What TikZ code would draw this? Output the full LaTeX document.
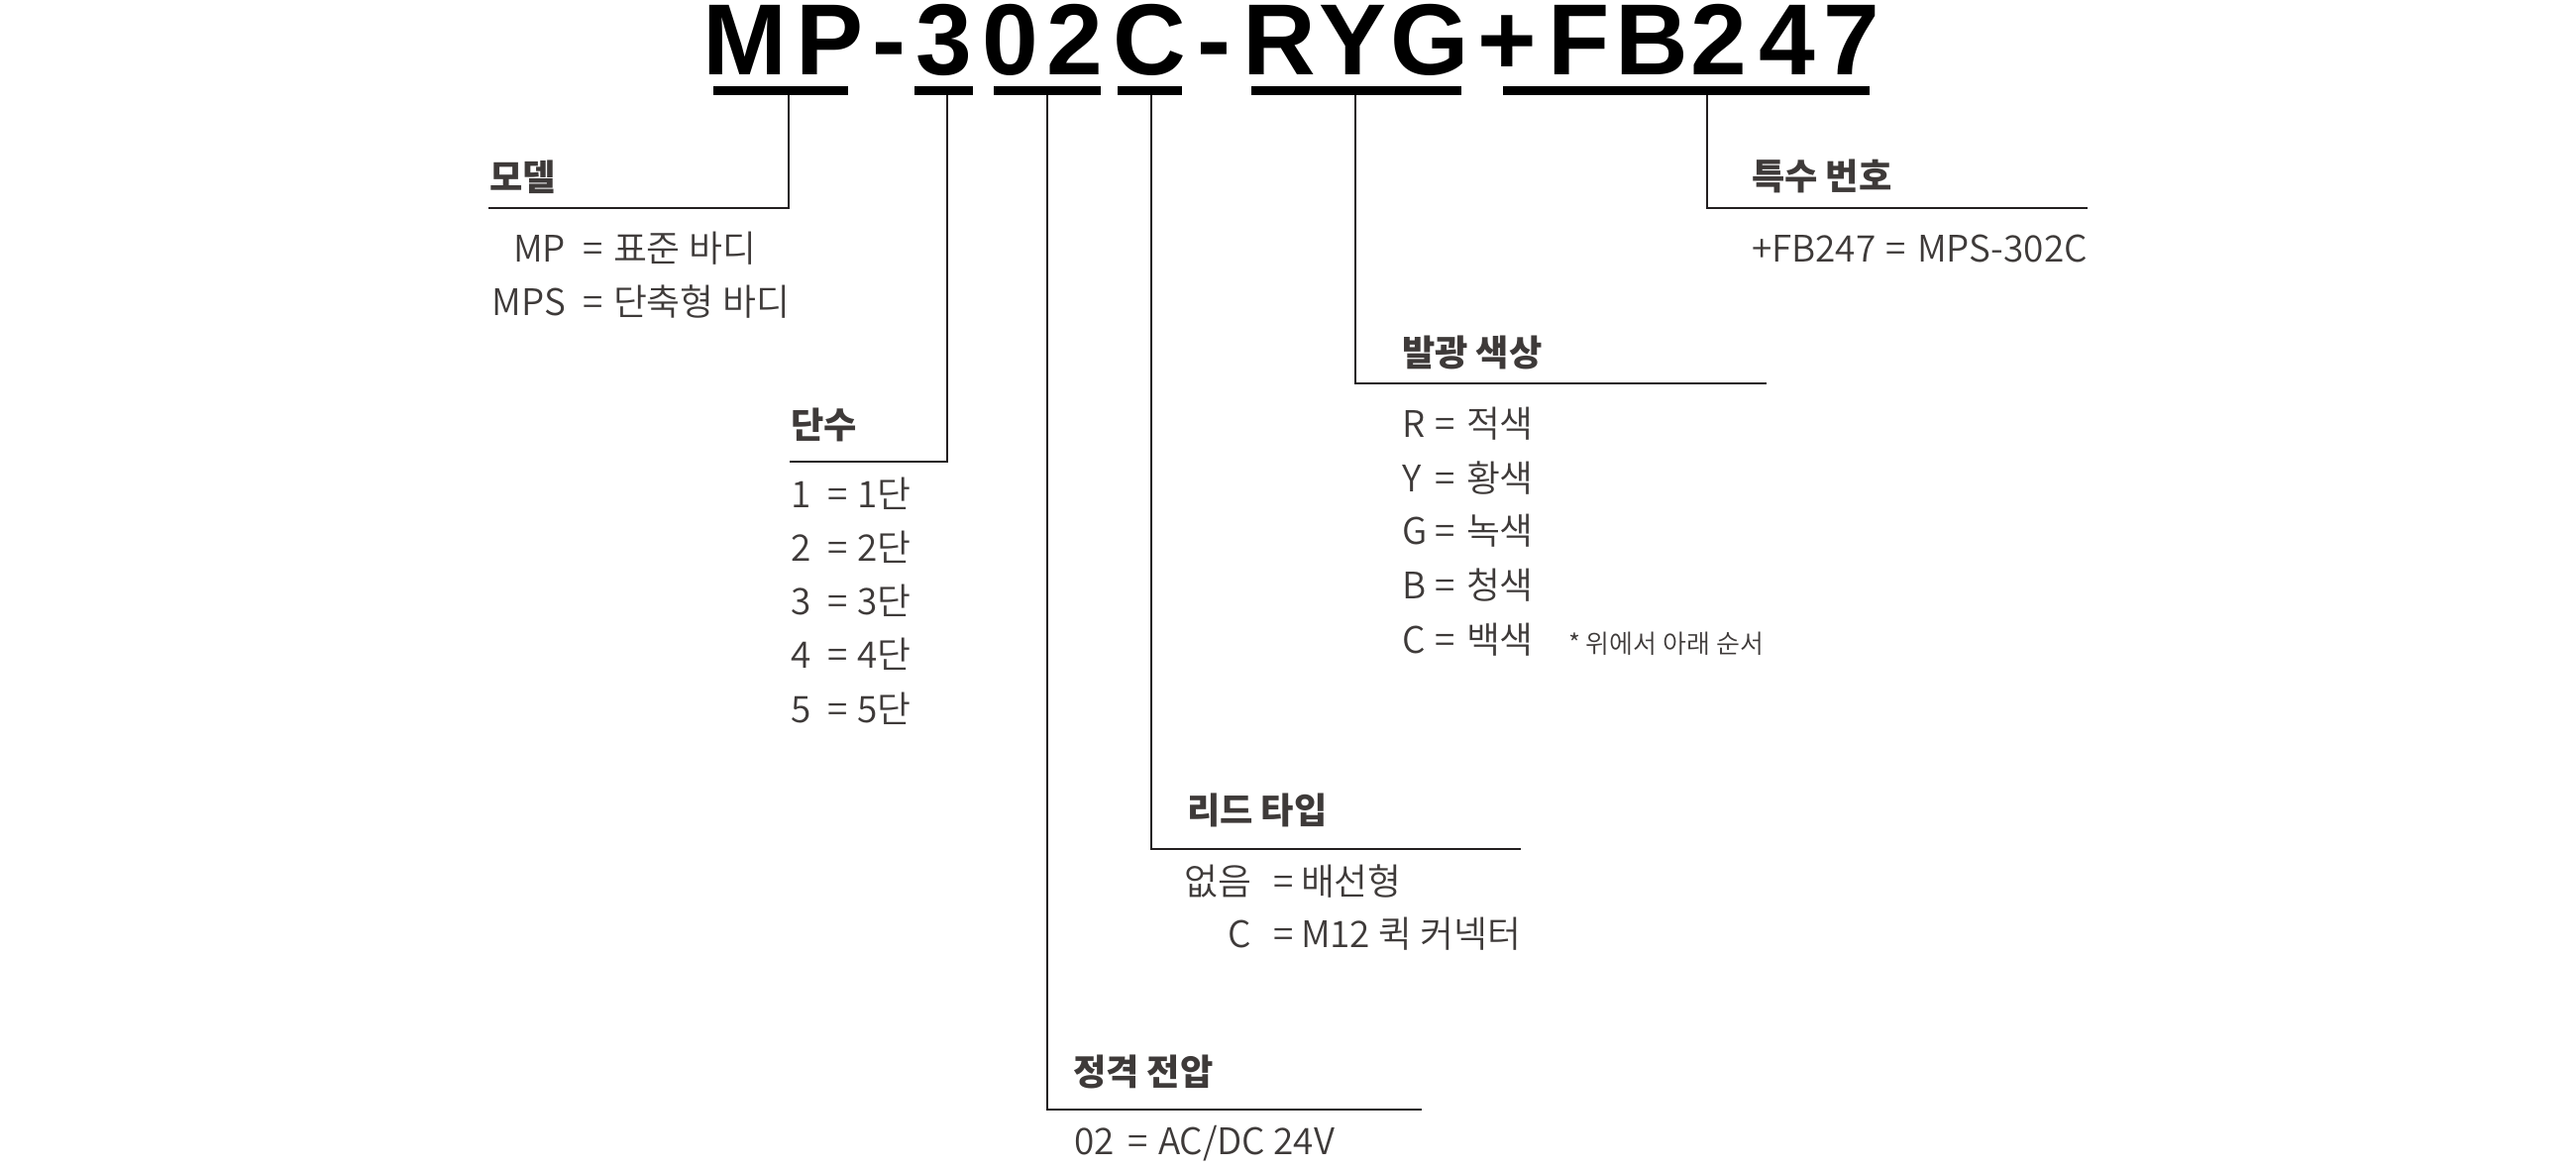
\documentclass[tikz,border=0pt]{standalone}
\usepackage{fontspec}
\newfontfamily\titlefont{Liberation Sans}
\newfontfamily\krfont{Noto Sans CJK KR}
\newfontfamily\krlight{Noto Sans CJK KR DemiLight}
\definecolor{txt}{HTML}{3E3A39}
\definecolor{ln}{HTML}{231F20}
\begin{document}
\begin{tikzpicture}[x=0.01cm,y=-0.01cm,
 ttl/.style={font=\titlefont\bfseries\fontsize{29}{29}\selectfont, inner sep=0pt, outer sep=0pt, anchor=base},
 head/.style={font=\krfont\bfseries\fontsize{10.3}{12}\selectfont, text=txt, inner sep=0pt, outer sep=0pt, anchor=base west},
 body/.style={font=\krlight\fontsize{10.5}{12}\selectfont, text=txt, inner sep=0pt, outer sep=0pt, anchor=base west},
 key/.style={body, anchor=base east},
 notetxt/.style={font=\krlight\fontsize{7.4}{9}\selectfont, text=txt, inner sep=0pt, outer sep=0pt, anchor=base west},
 bar/.style={draw=black, line width=2.56pt},
 lead/.style={draw=ln, line width=0.6pt}]
\useasboundingbox (0,0) rectangle (2600,1180);
% title characters
\foreach \c/\x [count=\i] in {M/752,P/838,-/897,3/953,0/1020,2/1085,C/1160,-/1225,R/1291,Y/1365,G/1443,+/1521,F/1594,B/1667,2/1735,4/1804,7/1869}
  \node[ttl] (t\i) at (\x,76) {\c};
% underline bars
\draw[bar] (720,91.5) -- (856,91.5);
\draw[bar] (923,91.5) -- (982,91.5);
\draw[bar] (1003,91.5) -- (1111,91.5);
\draw[bar] (1128,91.5) -- (1193,91.5);
\draw[bar] (1263,91.5) -- (1475,91.5);
\draw[bar] (1517,91.5) -- (1887,91.5);
% connector coordinates
\coordinate (bMP) at (796,96);
\coordinate (b3) at (956,96);
\coordinate (b02) at (1057,96);
\coordinate (bC) at (1162,96);
\coordinate (bRYG) at (1368,96);
\coordinate (bFB) at (1723,96);
\coordinate (hMP) at (493,210);
\coordinate (h3) at (797,466);
\coordinate (h02) at (1435,1120);
\coordinate (hC) at (1535,857);
\coordinate (hRYG) at (1783,387);
\coordinate (hFB) at (2107,210);
\draw[lead] (bMP) |- (hMP);
\draw[lead] (b3) |- (h3);
\draw[lead] (b02) |- (h02);
\draw[lead] (bC) |- (hC);
\draw[lead] (bRYG) |- (hRYG);
\draw[lead] (bFB) |- (hFB);
% model
\node[head] (mh) at (494,193) {모델};
\node[key] (mk1) at (571,265) {MP};
\node[body] (me1) at (588,265) {=};
\node[body] (mv1) at (619,265) {표준 바디};
\node[key] (mk2) at (571,319) {MPS};
\node[body] (me2) at (588,319) {=};
\node[body] (mv2) at (619,319) {단축형 바디};
% stages
\node[head] (sh) at (798,443) {단수};
\foreach \n/\y in {1/513,2/567,3/621,4/675,5/730}{
  \node[body] (sk\n) at (798,\y) {\n};
  \node[body] (se\n) at (835,\y) {=};
  \node[body] (sv\n) at (865,\y) {{\n}단};
}
% colours
\node[head] (ch) at (1415,370) {발광 색상};
\foreach \k/\v/\y in {R/적색/442,Y/황색/497,G/녹색/550,B/청색/605,C/백색/660}{
  \node[body] (ck\k) at (1415,\y) {\k};
  \node[body] (ce\k) at (1448,\y) {=};
  \node[body] (cv\k) at (1480,\y) {\v};
}
\node[notetxt] (cn) at (1583,660) {* 위에서 아래 순서};
% lead type
\node[head] (lh) at (1198,832) {리드 타입};
\node[key] (lk1) at (1263,904) {없음};
\node[body] (le1) at (1285,904) {=};
\node[body] (lv1) at (1313,904) {배선형};
\node[key] (lk2) at (1263,957) {C};
\node[body] (le2) at (1285,957) {=};
\node[body] (lv2) at (1313,957) {M12 퀵 커넥터};
% voltage
\node[head] (vh) at (1083,1095) {정격 전압};
\node[body] (vk) at (1084,1165) {02};
\node[body] (ve) at (1138,1165) {=};
\node[body] (vv) at (1169,1165) {AC/DC 24V};
% special
\node[head] (fh) at (1768,192) {특수 번호};
\node[body] (fk) at (1768,265) {+FB247};
\node[body] (fe) at (1903,265) {=};
\node[body] (fv) at (1935,265) {MPS-302C};
\end{tikzpicture}
\end{document}
